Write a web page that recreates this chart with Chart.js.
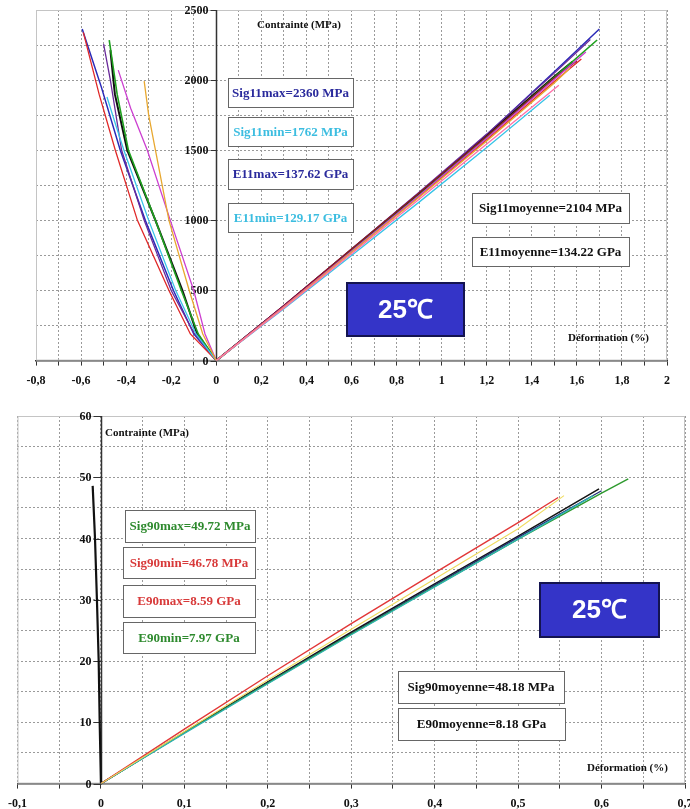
<!DOCTYPE html>
<html>
<head>
<meta charset="utf-8">
<script src="https://cdn.jsdelivr.net/npm/chart.js@4/dist/chart.umd.min.js"></script>
<style>
body{margin:0;background:#fff}
#wrap{position:relative;width:690px;height:809px;overflow:hidden;background:#fff}
canvas{position:absolute;left:0}
#top{top:0}
#bottom{top:400px}
</style>
</head>
<body>
<div id="wrap">
<canvas id="top" width="690" height="400"></canvas>
<canvas id="bottom" width="720" height="422"></canvas>
</div>
<script>
"use strict"
// ---- top chart (0 deg) : stress (MPa) vs strain (%) ----
const topXLabels = [-0.8,-0.6,-0.4,-0.2,0,0.2,0.4,0.6,0.8,1,1.2,1.4,1.6,1.8,2];
const topYLabels = [0,500,1000,1500,2000,2500];

const blueStrain    = [-0.595,-0.51,-0.426,-0.315,-0.19,-0.10,0,0.3,0.6,0.9,1.2,1.5,1.70];
const blueStress    = [2364,1950,1500,1000,500,190,0,390,790,1190,1610,2060,2364];
const redStrain     = [-0.59,-0.52,-0.448,-0.35,-0.21,-0.115,0,0.3,0.6,0.9,1.2,1.5,1.62];
const redStress     = [2340,1900,1500,1000,500,190,0,380,775,1170,1575,1990,2150];
const purpleStrain  = [-0.50,-0.47,-0.42,-0.32,-0.20,-0.10,0,0.3,0.6,0.9,1.2,1.5,1.66];
const purpleStress  = [2257,2000,1500,1000,500,200,0,392,795,1200,1615,2050,2290];
const cyanStrain    = [-0.485,-0.45,-0.41,-0.30,-0.18,-0.09,0,0.3,0.6,0.9,1.2,1.48];
const cyanStress    = [1880,1700,1500,1000,500,190,0,370,750,1130,1520,1893];
const greenStrain   = [-0.475,-0.44,-0.39,-0.27,-0.155,-0.08,0,0.3,0.6,0.9,1.2,1.5,1.69];
const greenStress   = [2286,1900,1500,1000,500,190,0,385,782,1180,1590,2020,2286];
const magentaStrain = [-0.435,-0.38,-0.306,-0.204,-0.10,-0.05,0,0.3,0.6,0.9,1.2,1.5,1.64];
const magentaStress = [2071,1800,1500,1000,500,190,0,385,780,1178,1585,2005,2200];
const orangeStrain  = [-0.32,-0.30,-0.27,-0.21,-0.12,-0.06,0,0.3,0.6,0.9,1.2,1.5,1.57];
const orangeStress  = [1993,1750,1500,1000,500,190,0,380,772,1165,1565,1980,2086];
const pinkStrain    = [0,0.3,0.6,0.9,1.2,1.52];
const pinkStress    = [0,375,762,1150,1545,1964];
const darkredStrain = [0,0.3,0.6,0.9,1.2,1.5,1.60];
const darkredStress = [0,392,795,1195,1600,2015,2136];
const blackStrain   = [-0.47,-0.45,-0.395,-0.27,-0.15,-0.085,0,0.3,0.6,0.9,1.2,1.5,1.58];
const blackStress   = [2214,1900,1500,1000,500,190,0,388,790,1192,1605,2025,2130];

// ---- bottom chart (90 deg) ----
const botXLabels = [-0.1,0,0.1,0.2,0.3,0.4,0.5,0.6,0.7];
const botYLabels = [0,10,20,30,40,50,60];

const transStrain = [-0.0099,-0.0071,-0.0048,-0.0027,-0.0015,0];
const transStress = [48.6,40,30,20,10,0];
const r90Strain = [0,0.1,0.2,0.3,0.4,0.5,0.548];
const r90Stress = [0,8.9,17.6,26.1,34.4,42.6,46.7];
const y90Strain = [0,0.1,0.2,0.3,0.4,0.5,0.555];
const y90Stress = [0,8.5,16.9,25.2,33.4,41.6,47.0];
const g90Strain = [0,0.1,0.2,0.3,0.4,0.5,0.6,0.632];
const g90Stress = [0,8.3,16.4,24.4,32.2,39.9,47.4,49.75];
const t90Strain = [0,0.1,0.2,0.3,0.4,0.5,0.59];
const t90Stress = [0,8.2,16.3,24.3,32.1,39.9,47.0];
const n90Strain = [0,0.1,0.2,0.3,0.4,0.5,0.60];
const n90Stress = [0,8.3,16.5,24.5,32.4,40.2,47.8];
const k90Strain = [0,0.1,0.2,0.3,0.4,0.5,0.597];
const k90Stress = [0,8.4,16.6,24.7,32.6,40.4,48.1];

const SERIF = '"Liberation Serif", "Times New Roman", serif';
Chart.defaults.font.family = SERIF;
Chart.defaults.font.weight = 'bold';
Chart.defaults.font.size = 12;
Chart.defaults.color = '#111';

function serie(strain, stress, color, width) {
    return {
        data: strain.map((e, i) => ({x: e, y: stress[i]})),
        borderColor: color,
        borderWidth: width || 1.3,
        showLine: true,
        pointRadius: 0,
        fill: false
    };
}

function fmt(v) {
    return String(Math.round(v * 100) / 100).replace('.', ',');
}

const extras = {
    id: 'extras',
    beforeDatasetsDraw(chart, args, o) {
        const {ctx, chartArea: a, scales: {x, y}} = chart;
        ctx.save();
        ctx.strokeStyle = '#c4c4c4';
        ctx.lineWidth = 1;
        ctx.strokeRect(a.left + 0.5, a.top + 0.5, a.right - a.left - 1, a.bottom - a.top - 1);
        const x0 = Math.round(x.getPixelForValue(0)) + 0.5;
        ctx.strokeStyle = '#333';
        ctx.lineWidth = 1.5;
        ctx.beginPath(); ctx.moveTo(x0, a.top); ctx.lineTo(x0, a.bottom); ctx.stroke();
        ctx.font = 'bold 12px ' + SERIF;
        ctx.fillStyle = '#111';
        ctx.textAlign = 'right';
        ctx.textBaseline = 'middle';
        ctx.lineWidth = 1;
        for (const v of o.yLabels) {
            const py = Math.round(y.getPixelForValue(v)) + 0.5;
            ctx.beginPath(); ctx.moveTo(x0 - o.tick, py); ctx.lineTo(x0, py); ctx.stroke();
            ctx.fillText(String(v), x0 - o.tick - 2, py);
        }
        ctx.restore();
    },
    afterDraw(chart, args, o) {
        const ctx = chart.ctx;
        ctx.save();
        ctx.textBaseline = 'middle';
        ctx.font = 'bold 11px ' + SERIF;
        ctx.fillStyle = '#111';
        ctx.textAlign = 'left';
        for (const t of o.titles) ctx.fillText(t.text, t.x, t.y);
        ctx.font = 'bold 13px ' + SERIF;
        ctx.textAlign = 'center';
        for (const b of o.boxes) {
            ctx.fillStyle = '#fff';
            ctx.fillRect(b.x, b.y, b.w, b.h);
            ctx.strokeStyle = '#666';
            ctx.lineWidth = 1;
            ctx.strokeRect(b.x + 0.5, b.y + 0.5, b.w, b.h);
            ctx.fillStyle = b.color;
            ctx.fillText(b.text, b.x + b.w / 2, b.y + b.h / 2 + 1);
        }
        const g = o.badge;
        ctx.fillStyle = '#3434c8';
        ctx.fillRect(g.x, g.y, g.w, g.h);
        ctx.strokeStyle = '#141450';
        ctx.lineWidth = 2;
        ctx.strokeRect(g.x + 1, g.y + 1, g.w - 2, g.h - 2);
        ctx.fillStyle = '#fff';
        ctx.font = 'bold 26px "Liberation Sans", Arial, sans-serif';
        ctx.fillText('25℃', g.x + g.w / 2, g.y + g.h / 2 + 1);
        ctx.restore();
    }
};

function axes(xmin, xmax, xstep, xLabels, ymin, ymax, ystep) {
    return {
        x: {
            type: 'linear', min: xmin, max: xmax,
            grid: {color: '#9a9a9a', lineWidth: 1, tickColor: '#333', tickLength: 5},
            border: {color: '#333', width: 1.5, dash: [2, 2]},
            ticks: {
                stepSize: xstep, autoSkip: false, maxRotation: 0, padding: 8,
                callback: v => xLabels.some(t => Math.abs(t - v) < 1e-9) ? fmt(v) : ''
            }
        },
        y: {
            type: 'linear', min: ymin, max: ymax,
            grid: {color: '#9a9a9a', lineWidth: 1, drawTicks: false},
            border: {display: false, dash: [2, 2]},
            ticks: {stepSize: ystep, display: false}
        }
    };
}

new Chart(document.getElementById('top'), {
    type: 'scatter',
    data: {
        datasets: [
            serie(pinkStrain, pinkStress, '#ff70a8'),
            serie(orangeStrain, orangeStress, '#e8a830'),
            serie(cyanStrain, cyanStress, '#38c4e8'),
            serie(magentaStrain, magentaStress, '#cc3fd0'),
            serie(darkredStrain, darkredStress, '#8a1c1c'),
            serie(redStrain, redStress, '#e02828'),
            serie(purpleStrain, purpleStress, '#6a2a9a'),
            serie(greenStrain, greenStress, '#1fa01f', 1.6),
            serie(blackStrain, blackStress, '#111111', 2),
            serie(blueStrain, blueStress, '#2a2ab8', 1.5)
        ]
    },
    options: {
        responsive: false,
        animation: false,
        layout: {padding: {left: 36, right: 23, top: 10, bottom: 4}},
        scales: axes(-0.8, 2, 0.1, topXLabels, 0, 2500, 250),
        plugins: {
            legend: {display: false},
            tooltip: {enabled: false},
            extras: {
                yLabels: topYLabels, tick: 6,
                titles: [
                    {text: 'Contrainte (MPa)', x: 257, y: 25},
                    {text: 'Déformation (%)', x: 568, y: 338}
                ],
                boxes: [
                    {text: 'Sig11max=2360 MPa', color: '#2a2a9c', x: 228, y: 78, w: 125, h: 29},
                    {text: 'Sig11min=1762 MPa', color: '#3cbde0', x: 228, y: 117, w: 125, h: 29},
                    {text: 'E11max=137.62 GPa', color: '#2a2a9c', x: 228, y: 159, w: 125, h: 30},
                    {text: 'E11min=129.17 GPa', color: '#3cbde0', x: 228, y: 203, w: 125, h: 29},
                    {text: 'Sig11moyenne=2104 MPa', color: '#111', x: 472, y: 193, w: 157, h: 30},
                    {text: 'E11moyenne=134.22 GPa', color: '#111', x: 472, y: 237, w: 157, h: 29}
                ],
                badge: {x: 346, y: 282, w: 119, h: 55}
            }
        }
    },
    plugins: [extras]
});

new Chart(document.getElementById('bottom'), {
    type: 'scatter',
    data: {
        datasets: [
            serie(y90Strain, y90Stress, '#f0dc60', 1.1),
            serie(r90Strain, r90Stress, '#e23838', 1.4),
            serie(t90Strain, t90Stress, '#2fb2b2', 1.3),
            serie(g90Strain, g90Stress, '#2e9a2e', 1.4),
            serie(n90Strain, n90Stress, '#22307a', 1.4),
            serie(k90Strain, k90Stress, '#141414', 1.6),
            serie(transStrain, transStress, '#111111', 2.2)
        ]
    },
    options: {
        responsive: false,
        animation: false,
        layout: {padding: {left: 16, right: 35, top: 16, bottom: 3}},
        scales: axes(-0.1, 0.7, 0.05, botXLabels, 0, 60, 5),
        plugins: {
            legend: {display: false},
            tooltip: {enabled: false},
            extras: {
                yLabels: botYLabels, tick: 8,
                titles: [
                    {text: 'Contrainte (MPa)', x: 105, y: 33},
                    {text: 'Déformation (%)', x: 587, y: 368}
                ],
                boxes: [
                    {text: 'Sig90max=49.72 MPa', color: '#2e8a2e', x: 125, y: 110, w: 130, h: 32},
                    {text: 'Sig90min=46.78 MPa', color: '#d83a3a', x: 123, y: 147, w: 132, h: 31},
                    {text: 'E90max=8.59 GPa', color: '#d83a3a', x: 123, y: 185, w: 132, h: 32},
                    {text: 'E90min=7.97 GPa', color: '#2e8a2e', x: 123, y: 222, w: 132, h: 31},
                    {text: 'Sig90moyenne=48.18 MPa', color: '#111', x: 398, y: 271, w: 166, h: 32},
                    {text: 'E90moyenne=8.18 GPa', color: '#111', x: 398, y: 308, w: 167, h: 32}
                ],
                badge: {x: 539, y: 182, w: 121, h: 56}
            }
        }
    },
    plugins: [extras]
});
</script>
</body>
</html>
